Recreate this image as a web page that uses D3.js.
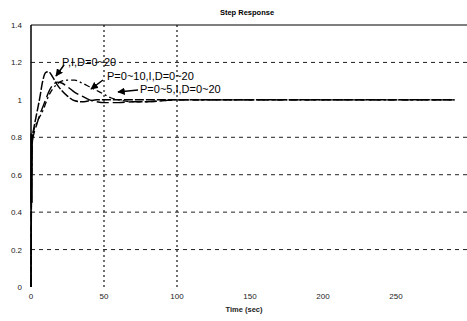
<!DOCTYPE html>
<html><head><meta charset="utf-8">
<script src="https://cdn.jsdelivr.net/npm/d3@7/dist/d3.min.js"></script>
<style>body{margin:0;background:#fff}svg{display:block}</style>
</head><body>
<script>
const title = "Step Response";
const xLabel = "Time (sec)";
const xTicks = [0, 50, 100, 150, 200, 250];
const yTicks = [0, 0.2, 0.4, 0.6, 0.8, 1, 1.2, 1.4];
const yGrid = [0.2, 0.4, 0.6, 0.8, 1.2];
const xGrid = [50, 100];
const time = [0, 0.5, 1, 2, 4, 6, 8, 10, 12, 15, 18, 21, 25, 30, 35, 40, 45, 50, 55, 60, 70, 80, 90, 100, 120, 150, 200, 250, 290];
const seriesNames = ["P,I,D=0~20", "P=0~10,I,D=0~20", "P=0~5,I,D=0~20"];
const s1 = [0, 0.70, 0.80, 0.85, 0.93, 1.01, 1.10, 1.145, 1.15, 1.12, 1.08, 1.05, 1.02, 0.995, 0.99, 0.995, 1.0, 1.0, 1.0, 1.0, 1.0, 1.0, 1.0, 1.0, 1.0, 1.0, 1.0, 1.0, 1.0];
const s2 = [0, 0.70, 0.80, 0.84, 0.88, 0.91, 0.94, 0.98, 1.02, 1.06, 1.085, 1.10, 1.105, 1.105, 1.09, 1.07, 1.05, 1.03, 1.01, 1.0, 0.99, 0.99, 0.995, 1.0, 1.0, 1.0, 1.0, 1.0, 1.0];
const s3 = [0, 0.68, 0.78, 0.82, 0.87, 0.92, 0.96, 1.0, 1.04, 1.08, 1.095, 1.09, 1.07, 1.04, 1.02, 1.0, 0.99, 0.985, 0.985, 0.985, 0.99, 0.99, 0.995, 1.0, 1.0, 1.0, 1.0, 1.0, 1.0];
const seriesVals = [s1, s2, s3];

const W = 467, H = 321;
const m = {left: 31, top: 25, bottom: 34};
const svg = d3.select("body").append("svg").attr("width", W).attr("height", H);
const x = d3.scaleLinear().domain([0, 300]).range([m.left, m.left + 438]);
const y = d3.scaleLinear().domain([0, 1.4]).range([H - m.bottom - 0, m.top]);

// grid
svg.append("g").selectAll("line").data(yGrid).join("line")
  .attr("x1", x(0)).attr("x2", W).attr("y1", d => y(d)).attr("y2", d => y(d))
  .attr("stroke", "#222").attr("stroke-width", 1).attr("stroke-dasharray", "4,4");
svg.append("g").selectAll("line").data(xGrid).join("line")
  .attr("x1", d => x(d)).attr("x2", d => x(d)).attr("y1", y(1.4)).attr("y2", y(0))
  .attr("stroke", "#111").attr("stroke-width", 1.2).attr("stroke-dasharray", "2,3");

// top border & left axis
svg.append("line").attr("x1", x(0)).attr("x2", W).attr("y1", y(1.4)).attr("y2", y(1.4))
  .attr("stroke", "#000").attr("stroke-width", 1.2);
svg.append("line").attr("x1", x(0)).attr("x2", x(0)).attr("y1", y(1.4)).attr("y2", y(0))
  .attr("stroke", "#000").attr("stroke-width", 1.5);

// tick labels
svg.append("g").selectAll("text").data(yTicks).join("text")
  .attr("x", x(0) - 9).attr("y", d => y(d) + 3).attr("text-anchor", "end")
  .attr("font-family", "Liberation Sans, Arial, sans-serif").attr("font-size", 8).attr("fill", "#222")
  .text(d => d3.format("~g")(d));
svg.append("g").selectAll("text").data(xTicks).join("text")
  .attr("x", d => x(d)).attr("y", y(0) + 12).attr("text-anchor", "middle")
  .attr("font-family", "Liberation Sans, Arial, sans-serif").attr("font-size", 8).attr("fill", "#222")
  .text(d => d);

svg.append("text").attr("x", 247).attr("y", 15).attr("text-anchor", "middle")
  .attr("font-family", "Liberation Sans, Arial, sans-serif").attr("font-size", 7.5).attr("font-weight", "bold")
  .text(title);
svg.append("text").attr("x", 244).attr("y", 312).attr("text-anchor", "middle")
  .attr("font-family", "Liberation Sans, Arial, sans-serif").attr("font-size", 7.5).attr("font-weight", "bold").attr("fill", "#222")
  .text(xLabel);

// curves
const dashes = ["9,2", "6,3,2,3", "12,4"];
const widths = [1.5, 1.3, 1.4];
const line = d3.line().x(d => x(d[0])).y(d => y(d[1])).curve(d3.curveMonotoneX);
seriesVals.forEach((vals, i) => {
  svg.append("path").datum(time.map((t, k) => [t, vals[k]]))
    .attr("d", line).attr("fill", "none").attr("stroke", "#000")
    .attr("stroke-width", widths[i]).attr("stroke-dasharray", dashes[i]);
});
// left vertical rise overlap
svg.append("line").attr("x1", x(0) + 0.5).attr("x2", x(0) + 0.5).attr("y1", y(0.82)).attr("y2", y(0.45))
  .attr("stroke", "#000").attr("stroke-width", 2.5);

// annotations
const ann = [
  {tx: 62, ty: 66, ax1: 64, ay1: 65, ax2: 56, ay2: 76},
  {tx: 107, ty: 80, ax1: 103, ay1: 80, ax2: 91, ay2: 89},
  {tx: 140, ty: 93, ax1: 138, ay1: 90, ax2: 118, ay2: 92}
];
svg.append("defs").append("marker").attr("id", "ah").attr("viewBox", "0 0 10 10")
  .attr("refX", 9).attr("refY", 5).attr("markerWidth", 5).attr("markerHeight", 5).attr("orient", "auto")
  .append("path").attr("d", "M0,0L10,5L0,10z").attr("fill", "#000");
ann.forEach((a, i) => {
  svg.append("line").attr("x1", a.ax1).attr("y1", a.ay1).attr("x2", a.ax2).attr("y2", a.ay2)
    .attr("stroke", "#000").attr("stroke-width", 1.5).attr("marker-end", "url(#ah)");
  svg.append("text").attr("x", a.tx).attr("y", a.ty)
    .attr("font-family", "Liberation Sans, Arial, sans-serif").attr("font-size", 11).attr("fill", "#000")
    .text(seriesNames[i]);
});
</script>
</body></html>
